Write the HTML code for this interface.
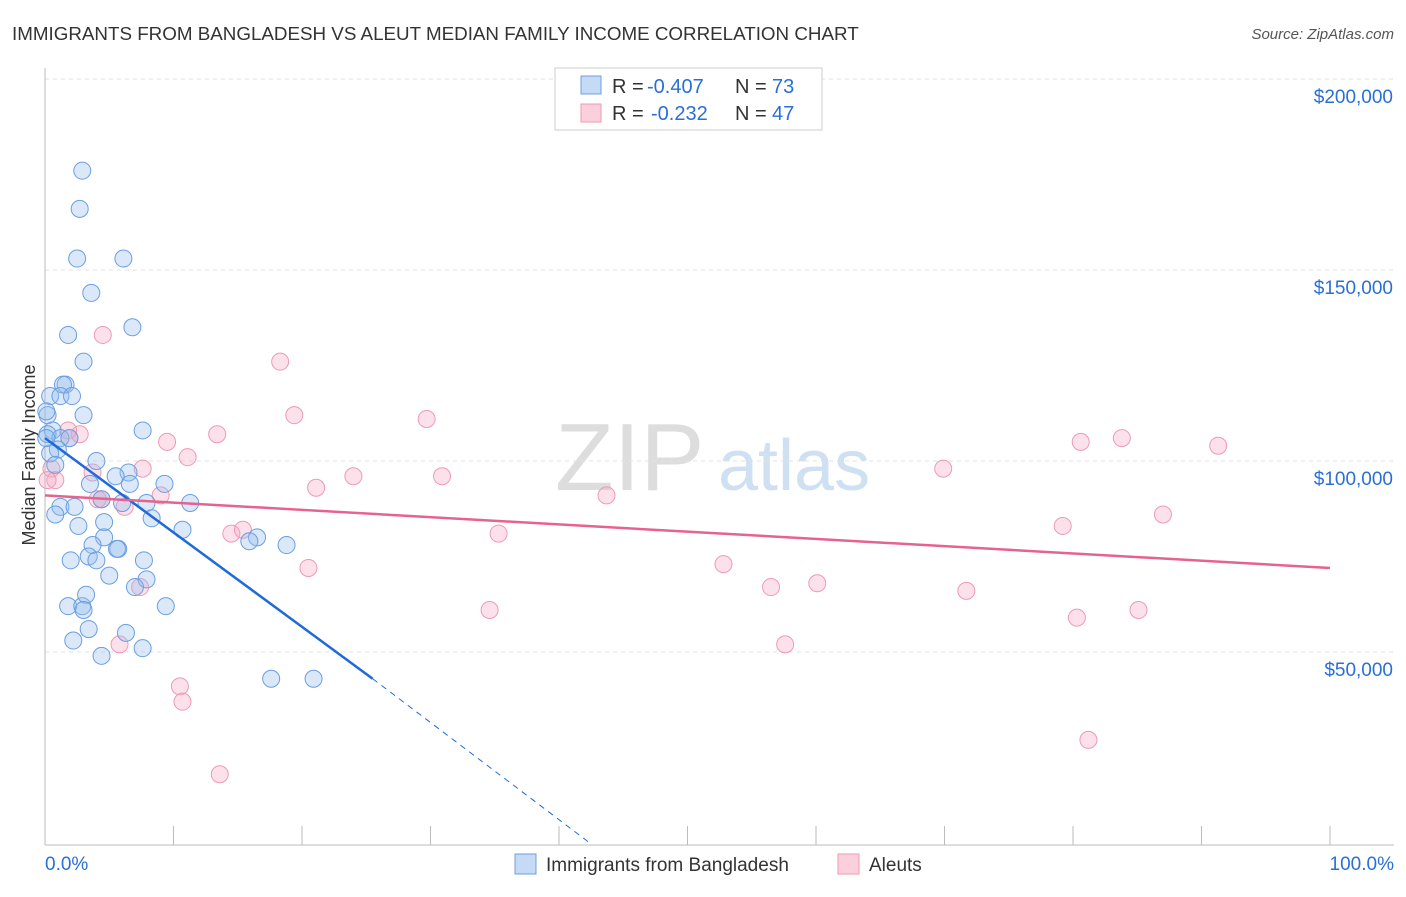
<!DOCTYPE html>
<html><head><meta charset="utf-8"><style>
body{margin:0;background:#fff;font-family:"Liberation Sans",sans-serif}
svg text{font-family:"Liberation Sans",sans-serif}
</style></head><body>
<svg id="chart" width="1406" height="892">
<text x="12" y="40" font-size="18.8" fill="#333">IMMIGRANTS FROM BANGLADESH VS ALEUT MEDIAN FAMILY INCOME CORRELATION CHART</text>
<text x="1394" y="39" font-size="15" fill="#555" font-style="italic" text-anchor="end">Source: ZipAtlas.com</text>
<text x="35" y="455" font-size="18" fill="#333" text-anchor="middle" transform="rotate(-90 35 455)">Median Family Income</text>
<g><text x="555" y="490" font-size="96" fill="#ddd" font-family="Liberation Serif">ZIP</text><text x="718" y="490" font-size="72" fill="#cfe0f3">atlas</text></g>
<g id="grid"></g><g id="pts"></g><g id="lines"></g>
<g>
<rect x="555" y="68" width="267" height="62" fill="#fff" stroke="#ccc"/>
<rect x="581" y="76" width="20" height="18" fill="#c5daf5" stroke="#6f9fe0"/>
<rect x="581" y="104" width="20" height="18" fill="#fbd0dc" stroke="#ef98b2"/>
<text x="612" y="93" font-size="20" fill="#333">R =</text>
<text x="647" y="93" font-size="20" fill="#2a6fd6">-0.407</text>
<text x="735" y="93" font-size="20" fill="#333">N =</text>
<text x="772" y="93" font-size="20" fill="#2a6fd6">73</text>
<text x="612" y="120" font-size="20" fill="#333">R =</text>
<text x="651" y="120" font-size="20" fill="#2a6fd6">-0.232</text>
<text x="735" y="120" font-size="20" fill="#333">N =</text>
<text x="772" y="120" font-size="20" fill="#2a6fd6">47</text>
</g>
<g>
<rect x="515" y="854" width="21" height="20" fill="#c5daf5" stroke="#6f9fe0"/>
<text x="546" y="871" font-size="19" fill="#333">Immigrants from Bangladesh</text>
<rect x="838" y="854" width="21" height="20" fill="#fbd0dc" stroke="#ef98b2"/>
<text x="869" y="871" font-size="19" fill="#333">Aleuts</text>
</g>
<text x="45" y="870" font-size="19" fill="#2a6fd6">0.0%</text>
<text x="1394" y="870" font-size="19" fill="#2a6fd6" text-anchor="end">100.0%</text>
</svg>
<script>
const yTicks=[50000,100000,150000,200000];
const yTickLabels=["$50,000","$100,000","$150,000","$200,000"];
const blueX=[2.9,2.7,2.5,6.1,3.6,6.8,1.8,3.0,1.6,1.4,0.4,1.2,2.1,0.2,3.0,7.6,0.6,0.2,1.2,1.9,1.0,0.4,4.0,0.8,6.5,5.5,9.3,3.5,6.6,4.4,6.0,7.9,11.3,1.2,2.3,0.8,8.3,4.6,2.6,10.7,4.6,16.5,15.9,18.8,3.7,5.7,5.6,3.4,7.7,2.0,4.0,5.0,7.9,7.0,1.8,2.9,3.2,3.0,9.4,3.4,6.3,2.2,7.6,4.4,17.6,20.9,0.1,0.1];
const blueY=[176,166,153,153,144,135,133,126,120,120,117,117,117,112,112,108,108,107,106,106,103,102,100,99,97,96,94,94,94,90,89,89,89,88,88,86,85,84,83,82,80,80,79,78,78,77,77,75,74,74,74,70,69,67,62,62,65,61,62,56,55,53,51,49,43,43,113,106];
const pinkX=[4.5,18.3,19.4,29.7,9.5,13.4,11.1,1.9,2.7,1.8,0.5,3.7,7.6,0.8,21.1,24.0,30.9,4.4,9.0,6.2,14.5,15.4,35.3,43.7,69.9,80.6,83.8,91.3,79.2,87.0,20.5,52.8,56.5,60.1,71.7,7.4,34.6,57.6,80.3,85.1,5.8,10.5,10.7,13.6,81.2,0.2,4.1];
const pinkY=[133,126,112,111,105,107,101,106,107,108,98,97,98,95,93,96,96,90,91,88,81,82,81,91,98,105,106,104,83,86,72,73,67,68,66,67,61,52,59,61,52,41,37,18,27,95,90];
const blueTrend=[[0,106],[25.5,43]], blueDash=[[25.5,43],[42.4,0]];
const pinkTrend=[[0,91],[100,72]];
const X=v=>45+v*12.85, Y=v=>843-v/50000*191, Yk=v=>Y(v*1000);
const ns="http://www.w3.org/2000/svg";
const mk=(p,t,a)=>{const e=document.createElementNS(ns,t);for(const k in a)e.setAttribute(k,a[k]);p.appendChild(e);return e;};
const grid=document.getElementById('grid');
yTicks.forEach((t,i)=>{
 const l=mk(grid,'line',{x1:45,x2:1394,y1:Y(t),y2:Y(t),stroke:'#e2e2e2','stroke-dasharray':'4 4'});
 
 
 const tx=mk(grid,'text',{x:1393,y:Y(t)+24,'font-size':19,fill:'#2a6fd6','text-anchor':'end'});
 tx.textContent=yTickLabels[i];
 
 
});
mk(grid,'line',{x1:45,x2:45,y1:68,y2:845,stroke:'#bbb'});
mk(grid,'line',{x1:45,x2:1394,y1:845,y2:845,stroke:'#bbb'});
for(let i=0;i<=10;i++){mk(grid,'line',{x1:X(i*10),x2:X(i*10),y1:826,y2:845,stroke:'#bbb'});}
const pts=document.getElementById('pts');
pinkX.forEach((x,i)=>{const c=mk(pts,'circle',{cx:X(x),cy:Yk(pinkY[i]),r:8.5,fill:'rgba(246,170,195,0.35)',stroke:'#ee9ab5','stroke-width':1});
 
 });
blueX.forEach((x,i)=>{const c=mk(pts,'circle',{cx:X(x),cy:Yk(blueY[i]),r:8.5,fill:'rgba(150,190,238,0.35)',stroke:'#6a9fe0','stroke-width':1});
 
 });
const lines=document.getElementById('lines');
let l=mk(lines,'line',{x1:X(blueTrend[0][0]),y1:Yk(blueTrend[0][1]),x2:X(blueTrend[1][0]),y2:Yk(blueTrend[1][1]),stroke:'#1f6ad8','stroke-width':2.5});


l=mk(lines,'line',{x1:X(blueDash[0][0]),y1:Yk(blueDash[0][1]),x2:X(blueDash[1][0]),y2:Yk(blueDash[1][1]),stroke:'#1f6ad8','stroke-width':1,'stroke-dasharray':'6 5'});


l=mk(lines,'line',{x1:X(pinkTrend[0][0]),y1:Yk(pinkTrend[0][1]),x2:X(pinkTrend[1][0]),y2:Yk(pinkTrend[1][1]),stroke:'#e5638e','stroke-width':2.5});


</script>
</body></html>
